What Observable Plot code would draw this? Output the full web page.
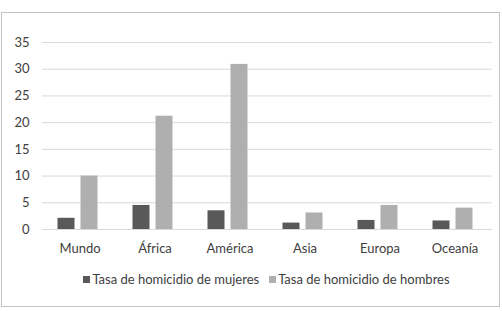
<!DOCTYPE html>
<html>
<head>
<meta charset="utf-8">
<script src="https://cdn.jsdelivr.net/npm/d3@7"></script>
<script src="https://cdn.jsdelivr.net/npm/@observablehq/plot@0.6"></script>
<style>
  html, body { margin: 0; padding: 0; background: #fff; }
  #frame {
    position: absolute; left: 1px; top: 12px;
    width: 497px; height: 293px;
    border: 1px solid #c4c4c4;
    font-family: Lato, "Open Sans", sans-serif;
    color: #404040;
  }
  #legend {
    margin-left: 38px; width: 453px;
    display: flex; justify-content: center; align-items: center;
    margin-top: 13px; font-size: 13px; color: #404040; gap: 10px;
  }
  .item { display: flex; align-items: center; }
  .sw { width: 7px; height: 7px; display: inline-block; margin-right: 2px; }
</style>
</head>
<body>
<div id="frame"><div id="chart"></div><div id="legend"></div></div>
<script>
const categories = ["Mundo", "África", "América", "Asia", "Europa", "Oceanía"];
const seriesNames = ["Tasa de homicidio de mujeres", "Tasa de homicidio de hombres"];
const mujeres = [2.1, 4.5, 3.5, 1.2, 1.7, 1.6];
const hombres = [10.0, 21.2, 30.9, 3.1, 4.5, 4.0];
const yTicks = [0, 5, 10, 15, 20, 25, 30, 35];
const colors = ["#595959", "#afafaf"];

const data = [];
categories.forEach((c, i) => {
  data.push({region: c, serie: seriesNames[0], value: mujeres[i]});
  data.push({region: c, serie: seriesNames[1], value: hombres[i]});
});

const plot = Plot.plot({
  width: 497,
  height: 245,
  marginLeft: 38,
  marginRight: 6,
  marginTop: 29,
  marginBottom: 29,
  style: {fontFamily: "Lato, 'Open Sans', sans-serif", fontSize: "13px", color: "#404040", background: "transparent"},
  fx: {domain: categories, padding: 0, label: null, axis: null},
  x: {domain: seriesNames, paddingInner: 0.25, paddingOuter: 0.75, axis: null},
  y: {domain: [0, 35], axis: null},
  color: {domain: seriesNames, range: colors},
  marks: [
    Plot.ruleY(yTicks, {stroke: "#d9d9d9", strokeWidth: 1}),
    Plot.barY(data, {fx: "region", x: "serie", y: "value", fill: "serie", dx: -1.5}),
    Plot.axisY({ticks: yTicks, tickSize: 0, tickPadding: 13, label: null, fontSize: "13px"}),
    Plot.axisFx({anchor: "bottom", tickSize: 0, tickPadding: 14, label: null, fontSize: "13px"})
  ]
});
document.getElementById("chart").appendChild(plot);

const legend = document.getElementById("legend");
seriesNames.forEach((s, i) => {
  const it = document.createElement("span");
  it.className = "item";
  const sw = document.createElement("span");
  sw.className = "sw";
  sw.style.background = colors[i];
  it.appendChild(sw);
  it.appendChild(document.createTextNode(s));
  legend.appendChild(it);
});
</script>
</body>
</html>
